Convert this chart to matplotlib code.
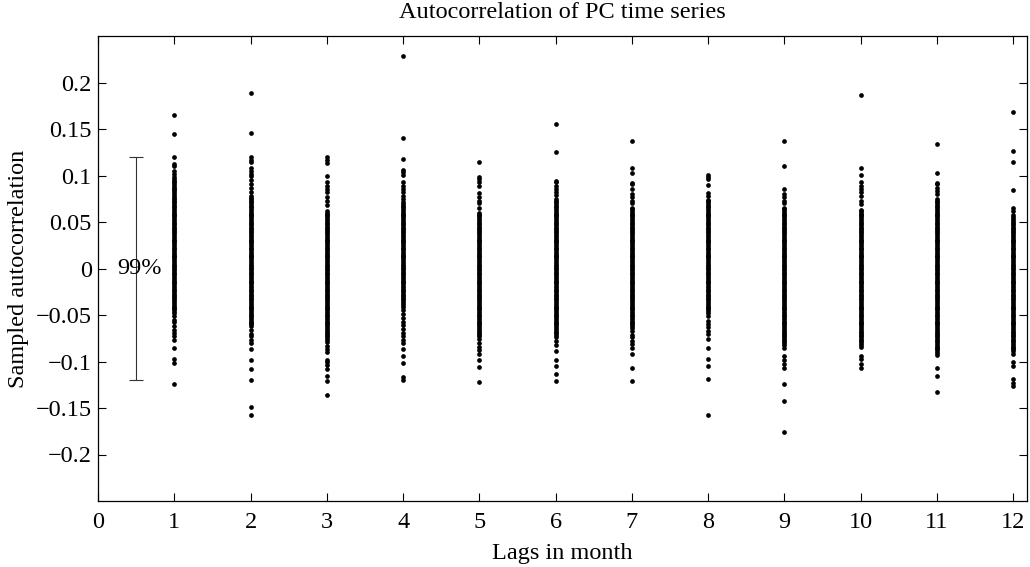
import numpy as np
import matplotlib
matplotlib.use('Agg')
import matplotlib.pyplot as plt
from matplotlib.ticker import FuncFormatter

plt.rcParams['font.family'] = ['Liberation Serif', 'DejaVu Serif']

# sampled autocorrelation of the PC time series, one list per lag,
# read off the figure (in units of 1e-3)
lags = [1, 2, 3, 4, 5, 6, 7, 8, 9, 10, 11, 12]

acf_lag1 = [165, 145, 120, 112, 110, 105, 102, 98, 96, 94, 93, 91, 89, 87, 85, 84, 82, 80, 78, 76,
            75, 73, 71, 69, 67, 66, 64, 62, 60, 58, 57, 55, 53, 51, 49, 48, 46, 44, 42, 40, 39, 37,
            35, 33, 31, 30, 28, 26, 24, 22, 21, 19, 17, 15, 13, 12, 10, 8, 6, 4, 3, 1, -1, -3, -5,
            -6, -8, -10, -12, -14, -15, -17, -19, -21, -23, -24, -26, -28, -30, -32, -33, -35, -37,
            -39, -41, -42, -44, -46, -48, -51, -55, -58, -62, -66, -69, -73, -77, -85, -97, -102,
            -124]
acf_lag2 = [189, 146, 120, 117, 115, 108, 105, 102, 99, 95, 91, 87, 82, 78, 76, 75, 73, 71, 69, 67,
            66, 64, 62, 60, 58, 57, 55, 53, 51, 49, 48, 46, 44, 42, 40, 39, 37, 35, 33, 31, 30, 28,
            26, 24, 22, 21, 19, 17, 15, 13, 12, 10, 8, 6, 4, 3, 1, -1, -3, -5, -6, -8, -10, -12,
            -14, -15, -17, -19, -21, -23, -24, -26, -28, -30, -32, -33, -35, -37, -39, -41, -42,
            -44, -46, -48, -50, -51, -53, -55, -57, -59, -60, -62, -66, -70, -73, -77, -80, -87,
            -98, -108, -120, -149, -157]
acf_lag3 = [120, 117, 113, 100, 93, 89, 86, 82, 77, 73, 68, 62, 60, 58, 57, 55, 53, 51, 49, 48, 46,
            44, 42, 40, 39, 37, 35, 33, 31, 30, 28, 26, 24, 22, 21, 19, 17, 15, 13, 12, 10, 8, 6,
            4, 3, 1, -1, -3, -5, -6, -8, -10, -12, -14, -15, -17, -19, -21, -23, -24, -26, -28,
            -30, -32, -33, -35, -37, -39, -41, -42, -44, -46, -48, -50, -51, -53, -55, -57, -59,
            -60, -62, -64, -66, -68, -69, -71, -73, -75, -77, -79, -83, -87, -90, -98, -101, -104,
            -108, -116, -121, -136]
acf_lag4 = [229, 140, 118, 106, 104, 101, 93, 89, 86, 82, 78, 75, 71, 69, 67, 66, 64, 62, 60, 58,
            57, 55, 53, 51, 49, 48, 46, 44, 42, 40, 39, 37, 35, 33, 31, 30, 28, 26, 24, 22, 21, 19,
            17, 15, 13, 12, 10, 8, 6, 4, 3, 1, -1, -3, -5, -6, -8, -10, -12, -14, -15, -17, -19,
            -21, -23, -24, -26, -28, -30, -32, -33, -35, -37, -39, -41, -45, -49, -53, -57, -61,
            -65, -69, -73, -77, -80, -87, -94, -102, -117, -120]
acf_lag5 = [115, 98, 96, 93, 89, 81, 77, 73, 70, 65, 60, 58, 57, 55, 53, 51, 49, 48, 46, 44, 42,
            40, 39, 37, 35, 33, 31, 30, 28, 26, 24, 22, 21, 19, 17, 15, 13, 12, 10, 8, 6, 4, 3, 1,
            -1, -3, -5, -6, -8, -10, -12, -14, -15, -17, -19, -21, -23, -24, -26, -28, -30, -32,
            -33, -35, -37, -39, -41, -42, -44, -46, -48, -50, -51, -53, -55, -57, -59, -60, -62,
            -64, -66, -68, -69, -71, -73, -76, -80, -84, -88, -92, -98, -106, -122]
acf_lag6 = [155, 125, 94, 93, 89, 86, 82, 79, 75, 73, 71, 69, 67, 66, 64, 62, 60, 58, 57, 55, 53,
            51, 49, 48, 46, 44, 42, 40, 39, 37, 35, 33, 31, 30, 28, 26, 24, 22, 21, 19, 17, 15, 13,
            12, 10, 8, 6, 4, 3, 1, -1, -3, -5, -6, -8, -10, -12, -14, -15, -17, -19, -21, -23,
            -24, -26, -28, -30, -32, -33, -35, -37, -39, -41, -42, -44, -46, -48, -50, -51, -53,
            -55, -57, -59, -60, -62, -64, -66, -68, -69, -71, -74, -78, -82, -89, -98, -105, -113,
            -121]
acf_lag7 = [137, 108, 103, 92, 91, 86, 80, 77, 73, 70, 65, 64, 62, 60, 58, 57, 55, 53, 51, 49, 48,
            46, 44, 42, 40, 39, 37, 35, 33, 31, 30, 28, 26, 24, 22, 21, 19, 17, 15, 13, 12, 10, 8,
            6, 4, 3, 1, -1, -3, -5, -6, -8, -10, -12, -14, -15, -17, -19, -21, -23, -24, -26, -28,
            -30, -32, -33, -35, -37, -39, -41, -42, -44, -46, -48, -50, -51, -53, -55, -57, -59,
            -60, -62, -64, -67, -71, -74, -78, -81, -85, -92, -107, -121]
acf_lag8 = [101, 98, 96, 90, 81, 78, 74, 73, 71, 69, 67, 66, 64, 62, 60, 58, 57, 55, 53, 51, 49,
            48, 46, 44, 42, 40, 39, 37, 35, 33, 31, 30, 28, 26, 24, 22, 21, 19, 17, 15, 13, 12, 10,
            8, 6, 4, 3, 1, -1, -3, -5, -6, -8, -10, -12, -14, -15, -17, -19, -21, -23, -24, -26,
            -28, -30, -32, -33, -35, -37, -39, -41, -42, -44, -46, -48, -51, -56, -60, -63, -67,
            -70, -76, -86, -97, -105, -119, -157]
acf_lag9 = [137, 110, 85, 80, 77, 73, 70, 65, 64, 62, 60, 58, 57, 55, 53, 51, 49, 48, 46, 44, 42,
            40, 39, 37, 35, 33, 31, 30, 28, 26, 24, 22, 21, 19, 17, 15, 13, 12, 10, 8, 6, 4, 3, 1,
            -1, -3, -5, -6, -8, -10, -12, -14, -15, -17, -19, -21, -23, -24, -26, -28, -30, -32,
            -33, -35, -37, -39, -41, -42, -44, -46, -48, -50, -51, -53, -55, -57, -59, -60, -62,
            -64, -66, -68, -69, -71, -73, -75, -77, -78, -80, -82, -85, -94, -98, -103, -107,
            -124, -143, -176]
acf_lag10 = [187, 108, 101, 93, 89, 86, 82, 78, 73, 69, 63, 62, 60, 58, 57, 55, 53, 51, 49, 48,
             46, 44, 42, 40, 39, 37, 35, 33, 31, 30, 28, 26, 24, 22, 21, 19, 17, 15, 13, 12, 10, 8,
             6, 4, 3, 1, -1, -3, -5, -6, -8, -10, -12, -14, -15, -17, -19, -21, -23, -24, -26, -28,
             -30, -32, -33, -35, -37, -39, -41, -42, -44, -46, -48, -50, -51, -53, -55, -57, -59,
             -60, -62, -64, -66, -68, -69, -71, -73, -75, -77, -78, -80, -82, -84, -94, -97, -103,
             -107]
acf_lag11 = [134, 103, 92, 91, 87, 83, 80, 75, 73, 71, 69, 67, 66, 64, 62, 60, 58, 57, 55, 53, 51,
             49, 48, 46, 44, 42, 40, 39, 37, 35, 33, 31, 30, 28, 26, 24, 22, 21, 19, 17, 15, 13, 12,
             10, 8, 6, 4, 3, 1, -1, -3, -5, -6, -8, -10, -12, -14, -15, -17, -19, -21, -23, -24,
             -26, -28, -30, -32, -33, -35, -37, -39, -41, -42, -44, -46, -48, -50, -51, -53, -55,
             -57, -59, -60, -62, -64, -66, -68, -69, -71, -73, -75, -77, -78, -80, -82, -84, -86,
             -87, -89, -91, -93, -107, -116, -133]
acf_lag12 = [168, 126, 114, 84, 65, 62, 58, 55, 53, 51, 49, 48, 46, 44, 42, 40, 39, 37, 35, 33, 31,
             30, 28, 26, 24, 22, 21, 19, 17, 15, 13, 12, 10, 8, 6, 4, 3, 1, -1, -3, -5, -6, -8,
             -10, -12, -14, -15, -17, -19, -21, -23, -24, -26, -28, -30, -32, -33, -35, -37, -39,
             -41, -42, -44, -46, -48, -50, -51, -53, -55, -57, -59, -60, -62, -64, -66, -68, -69,
             -71, -73, -75, -77, -78, -80, -82, -84, -86, -87, -89, -92, -101, -105, -119, -123,
             -126]

acf_all = [acf_lag1, acf_lag2, acf_lag3, acf_lag4, acf_lag5, acf_lag6,
           acf_lag7, acf_lag8, acf_lag9, acf_lag10, acf_lag11, acf_lag12]

# 99% significance band
conf_x = 0.5
conf_level = 0.12
conf_label = '99%'

fs = 17.5

fig = plt.figure(figsize=(10.30, 5.67), dpi=100)
ax = fig.add_axes([98 / 1030, 1 - 501 / 567, (1027 - 98) / 1030, (501 - 36) / 567])

for lag, vals in zip(lags, acf_all):
    vals = np.array(vals) / 1000.0
    ax.plot(np.full(len(vals), lag), vals, 'o', color='k', ms=3.4, mew=0)

ax.errorbar([conf_x], [0], yerr=[conf_level], color='#333333', lw=0.8, capsize=5, capthick=0.8)
ax.text(0.25, 0, conf_label, fontsize=fs, va='center', ha='left')

ax.set_xlim(0, 12.18)
ax.set_ylim(-0.25, 0.25)
ax.set_xticks(range(0, 13))
ax.set_yticks(np.arange(-0.2, 0.21, 0.05))


def fmt(v, pos):
    s = ('%.2f' % v).rstrip('0').rstrip('.')
    if s in ('-0', '0'):
        return '0'
    return s.replace('-', '\u2212')


ax.yaxis.set_major_formatter(FuncFormatter(fmt))
ax.tick_params(direction='in', length=6, width=0.8, top=True, right=True, labelsize=fs)
ax.tick_params(axis='x', pad=8)
ax.tick_params(axis='y', pad=4.5)
for sp in ax.spines.values():
    sp.set_linewidth(0.9)

ax.set_xlabel('Lags in month', fontsize=fs, labelpad=7)
ax.set_ylabel('Sampled autocorrelation', fontsize=fs, labelpad=5)
ax.set_title('Autocorrelation of PC time series', fontsize=fs, pad=13)

fig.savefig('out.png', dpi=100)
